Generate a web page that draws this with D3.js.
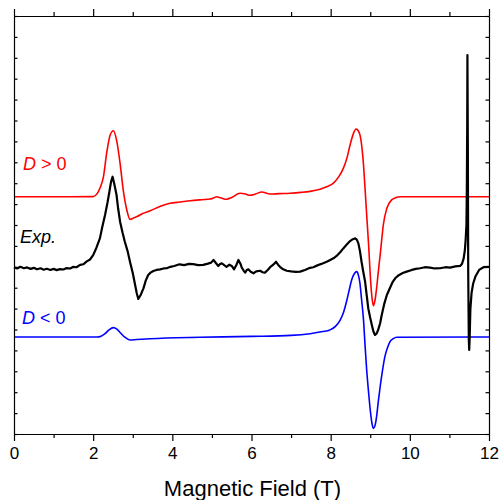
<!DOCTYPE html>
<html>
<head>
<meta charset="utf-8">
<style>
  body, html { margin: 0px; background: #fff; }
  text { font-family: "Liberation Sans", Arial, sans-serif; }
</style>
<script src="https://cdn.jsdelivr.net/npm/d3@7"></script>
</head>
<body>
<svg id="chart" width="499" height="500"></svg>
<script>
// spectra, [field (T), intensity (arb. units, offset)]
var simPositive = [[0,11.35],[1,11.35],[2.0,11.36],[2.1,11.5],[2.17,11.76],[2.26,12.31],[2.34,13.43],[2.43,14.31],[2.51,14.51],[2.59,14.07],[2.68,12.95],[2.76,11.67],[2.85,10.72],[2.93,10.27],[3.02,10.33],[3.10,10.40],[3.25,10.55],[3.44,10.68],[3.7,10.9],[3.94,11.04],[4.2,11.1],[4.45,11.16],[4.75,11.21],[4.95,11.24],[5.05,11.3],[5.12,11.35],[5.22,11.3],[5.37,11.23],[5.5,11.32],[5.71,11.52],[5.85,11.48],[5.96,11.42],[6.1,11.48],[6.26,11.58],[6.47,11.48],[6.7,11.5],[6.97,11.52],[7.25,11.56],[7.48,11.61],[7.73,11.71],[7.9,11.83],[8.07,12.0],[8.2,12.3],[8.32,12.71],[8.41,13.2],[8.49,13.83],[8.57,14.35],[8.64,14.59],[8.70,14.5],[8.74,14.31],[8.79,13.7],[8.83,12.87],[8.87,11.7],[8.91,10.48],[8.96,9.0],[9.0,7.61],[9.04,6.6],[9.08,6.14],[9.12,6.4],[9.16,6.97],[9.2,7.7],[9.25,8.56],[9.29,9.3],[9.33,10.0],[9.42,10.8],[9.54,11.2],[9.65,11.31],[9.75,11.35],[12,11.35]];

var simNegative = [[0,4.64],[2.1,4.64],[2.2,4.68],[2.3,4.8],[2.4,4.98],[2.51,5.09],[2.6,5.02],[2.7,4.82],[2.8,4.63],[2.93,4.50],[3.1,4.52],[3.44,4.56],[4.7,4.63],[6,4.67],[7.0,4.72],[7.48,4.8],[7.8,4.9],[7.98,4.98],[8.12,5.15],[8.24,5.45],[8.33,5.85],[8.41,6.41],[8.47,6.9],[8.53,7.37],[8.6,7.68],[8.66,7.77],[8.7,7.6],[8.74,7.21],[8.78,6.45],[8.83,5.45],[8.87,4.2],[8.91,3.06],[8.96,1.95],[9.0,1.15],[9.04,0.55],[9.08,0.27],[9.12,0.4],[9.16,0.83],[9.2,1.5],[9.25,2.26],[9.31,3.05],[9.37,3.70],[9.44,4.15],[9.5,4.42],[9.58,4.56],[9.67,4.63],[12,4.64]];

var experiment = [[0,7.98],[0.08,7.92],[0.16,8.0],[0.25,7.93],[0.33,7.97],[0.42,7.9],[0.5,7.95],[0.58,7.88],[0.67,7.93],[0.75,7.86],[0.83,7.91],[0.92,7.85],[1.0,7.9],[1.08,7.84],[1.16,7.89],[1.25,7.87],[1.33,7.94],[1.42,7.92],[1.5,8.0],[1.58,7.98],[1.67,8.09],[1.75,8.12],[1.83,8.25],[1.92,8.35],[2.0,8.56],[2.08,8.9],[2.17,9.36],[2.23,9.9],[2.30,10.48],[2.36,11.05],[2.41,11.59],[2.45,12.05],[2.49,12.31],[2.53,12.0],[2.59,11.44],[2.63,10.8],[2.68,10.16],[2.74,9.65],[2.80,9.2],[2.87,8.75],[2.93,8.24],[3.0,7.7],[3.06,7.13],[3.1,6.75],[3.14,6.46],[3.2,6.65],[3.27,6.97],[3.33,7.35],[3.39,7.61],[3.45,7.72],[3.52,7.80],[3.6,7.85],[3.69,7.88],[3.78,7.92],[3.86,7.93],[3.95,8.0],[4.05,8.04],[4.18,8.12],[4.3,8.08],[4.42,8.14],[4.53,8.13],[4.65,8.08],[4.78,8.09],[4.9,8.15],[4.98,8.2],[5.04,8.33],[5.1,8.18],[5.16,8.04],[5.2,8.12],[5.25,8.17],[5.31,8.08],[5.37,8.0],[5.44,8.1],[5.5,8.04],[5.56,7.88],[5.62,8.1],[5.67,8.33],[5.72,8.15],[5.75,7.98],[5.8,7.82],[5.84,7.72],[5.88,7.85],[5.92,7.88],[5.98,7.76],[6.05,7.69],[6.12,7.78],[6.22,7.81],[6.28,7.74],[6.34,7.72],[6.41,7.85],[6.47,7.98],[6.55,8.1],[6.62,8.24],[6.67,8.1],[6.72,8.0],[6.8,7.88],[6.89,7.81],[7.0,7.78],[7.12,7.76],[7.23,7.77],[7.35,7.85],[7.48,7.95],[7.56,7.98],[7.68,8.08],[7.81,8.17],[7.90,8.24],[8.0,8.34],[8.08,8.42],[8.15,8.52],[8.24,8.7],[8.32,8.88],[8.4,9.05],[8.49,9.23],[8.56,9.32],[8.62,9.36],[8.66,9.3],[8.70,9.12],[8.74,8.75],[8.78,8.24],[8.82,7.8],[8.87,7.29],[8.91,6.65],[8.95,6.01],[9.0,5.55],[9.04,5.22],[9.08,4.9],[9.12,4.74],[9.16,4.8],[9.2,4.98],[9.25,5.3],[9.29,5.69],[9.35,6.2],[9.42,6.65],[9.5,7.0],[9.56,7.25],[9.63,7.45],[9.72,7.6],[9.82,7.7],[9.92,7.77],[10.05,7.85],[10.15,7.9],[10.26,7.93],[10.38,7.98],[10.51,7.96],[10.63,7.92],[10.76,7.93],[10.9,7.98],[11.02,7.96],[11.15,8.02],[11.27,8.04],[11.32,8.15],[11.36,8.4],[11.39,8.8],[11.41,9.28],[11.43,10.0],[11.44,11.67],[11.45,15.0],[11.455,18.13],[11.465,14],[11.475,7.7],[11.49,4.5],[11.50,4.02],[11.51,4.5],[11.53,6.0],[11.56,6.75],[11.6,7.2],[11.66,7.55],[11.75,7.85],[11.86,7.98],[12,8.0]];

var xMajorTicks = [0, 2, 4, 6, 8, 10, 12];
var xMinorTicks = [1, 3, 5, 7, 9, 11];
var yTicks = d3.range(0, 21);

var labels = [
  {lead: "D", rest: " > 0", fill: "#ff0000", x: 23, y: 170},
  {lead: "", rest: "Exp.", fill: "#000000", x: 20, y: 243, italic: true},
  {lead: "D", rest: " < 0", fill: "#0000ff", x: 22, y: 324}
];

(function() {
  var svg = d3.select("#chart");
  var pLeft = 14, pRight = 489, pTop = 16, pBottom = 434;

  var x = d3.scaleLinear().domain([0, 12]).range([pLeft, pRight]);
  var y = d3.scaleLinear().domain([0, 20]).range([pBottom, pTop]);

  var line = d3.line()
    .x(function(d) { return x(d[0]); })
    .y(function(d) { return y(d[1]); });

  // traces
  svg.append("path").datum(simPositive)
    .attr("d", line.curve(d3.curveMonotoneX))
    .attr("fill", "none").attr("stroke", "#ff0000").attr("stroke-width", 1.6);

  svg.append("path").datum(simNegative)
    .attr("d", line.curve(d3.curveMonotoneX))
    .attr("fill", "none").attr("stroke", "#0000ff").attr("stroke-width", 1.6);

  svg.append("path").datum(experiment)
    .attr("d", line.curve(d3.curveLinear))
    .attr("fill", "none").attr("stroke", "#000").attr("stroke-width", 2.2)
    .attr("stroke-linejoin", "round");

  // axes
  function frame(g, axis, pos) {
    g.attr("transform", pos).call(axis);
    g.select(".domain").attr("stroke", "#000").attr("stroke-width", 1.2);
    g.selectAll(".tick line").attr("stroke", "#000").attr("stroke-width", 1.2);
  }

  frame(svg.append("g"), d3.axisBottom(x).tickValues(xMajorTicks).tickSize(7).tickSizeOuter(0).tickPadding(6), "translate(0," + pBottom + ")");
  frame(svg.append("g"), d3.axisBottom(x).tickValues(xMinorTicks).tickSize(4).tickFormat("").tickSizeOuter(0), "translate(0," + pBottom + ")");
  frame(svg.append("g"), d3.axisTop(x).tickValues(xMajorTicks).tickSize(7).tickFormat("").tickSizeOuter(0), "translate(0," + pTop + ")");
  frame(svg.append("g"), d3.axisTop(x).tickValues(xMinorTicks).tickSize(4).tickFormat("").tickSizeOuter(0), "translate(0," + pTop + ")");
  frame(svg.append("g"), d3.axisRight(y).tickValues(yTicks).tickSize(3.5).tickFormat("").tickSizeOuter(0), "translate(" + pLeft + ",0)");
  frame(svg.append("g"), d3.axisLeft(y).tickValues(yTicks).tickSize(3.5).tickFormat("").tickSizeOuter(0), "translate(" + pRight + ",0)");

  svg.selectAll(".tick text")
    .attr("fill", "#000")
    .style("font-size", "17px")
    .style("font-family", "'Liberation Sans', Arial, sans-serif");

  svg.append("text")
    .attr("x", (pLeft + pRight) / 2 + 1).attr("y", 496)
    .attr("text-anchor", "middle")
    .style("font-size", "22px")
    .text("Magnetic Field (T)");

  // trace labels
  labels.forEach(function(l) {
    var t = svg.append("text").attr("x", l.x).attr("y", l.y)
      .attr("fill", l.fill).style("font-size", "18px");
    if (l.lead) t.append("tspan").style("font-style", "italic").text(l.lead);
    t.append("tspan").style("font-style", l.italic ? "italic" : "normal").text(l.rest);
  });
})();
</script>
</body>
</html>
